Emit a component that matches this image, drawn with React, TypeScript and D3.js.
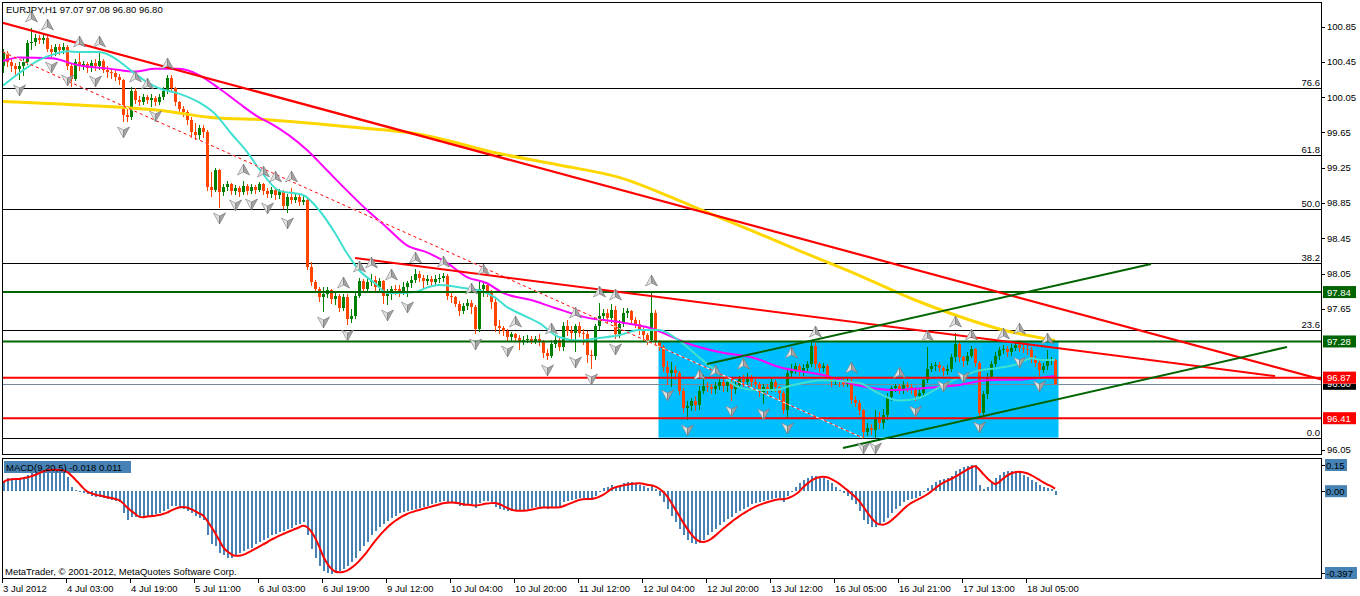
import React from 'react';
import * as d3 from 'd3';

// ---------------- DATA ----------------
const symbolTitle = 'EURJPY,H1  97.07 97.08 96.80 96.80';
const macdTitle = 'MACD(9,20,5) -0.018 0.011';
const copyright = 'MetaTrader, \u00A9 2001-2012, MetaQuotes Software Corp.';

const firstOpen = 100.4;
const closes = [
  100.55,100.45,100.40,100.37,100.40,100.45,100.66,100.68,100.72,100.70,
  100.72,100.60,100.56,100.62,100.58,100.62,100.40,100.26,100.45,100.40,
  100.42,100.38,100.44,100.40,100.46,100.36,100.33,100.32,100.28,100.24,
  99.85,99.82,100.12,100.02,100.00,100.05,100.02,100.04,100.00,100.05,
  100.12,100.27,100.15,99.99,99.92,99.88,99.79,99.66,99.62,99.70,
  99.66,99.03,99.00,99.22,98.97,99.03,99.06,98.98,99.02,98.97,
  99.04,98.98,99.03,99.00,99.06,98.98,98.95,99.00,98.94,98.98,
  98.82,98.92,98.88,98.92,98.86,98.88,98.12,97.95,97.88,97.78,
  97.82,97.86,97.76,97.80,97.66,97.78,97.54,97.57,97.80,97.97,
  97.88,97.95,97.98,97.90,97.96,97.79,97.84,97.88,97.87,97.84,
  97.90,97.94,97.98,98.04,98.00,97.96,97.99,97.95,97.99,98.00,
  98.02,97.79,97.78,97.71,97.62,97.68,97.72,97.67,97.42,97.88,
  97.92,97.84,97.73,97.45,97.43,97.40,97.33,97.36,97.32,97.28,
  97.30,97.31,97.29,97.31,97.28,97.15,97.12,97.25,97.30,97.22,
  97.45,97.40,97.38,97.45,97.38,97.36,97.13,97.12,97.45,97.57,
  97.60,97.55,97.64,97.36,97.48,97.60,97.62,97.52,97.48,97.40,
  97.35,97.30,97.60,97.27,97.22,96.99,96.92,96.96,96.92,96.72,
  96.53,96.55,96.60,96.56,96.72,96.78,96.76,96.74,96.78,96.82,
  96.77,96.82,96.74,96.79,96.85,96.82,96.87,96.82,96.80,96.71,
  96.76,96.74,96.82,96.76,96.70,96.50,96.92,96.96,97.00,96.95,
  96.98,97.02,97.23,97.02,96.98,97.00,96.87,96.82,96.84,96.82,
  96.80,96.83,96.62,96.58,96.50,96.25,96.30,96.28,96.42,96.36,
  96.45,96.65,96.75,96.77,96.74,96.79,96.76,96.74,96.66,96.70,
  96.84,96.97,97.00,97.01,96.98,96.94,96.97,97.10,97.25,97.10,
  97.06,97.12,97.19,97.04,96.47,96.68,96.88,97.02,97.12,97.18,
  97.20,97.16,97.21,97.24,97.21,97.20,97.18,97.08,97.04,96.96,
  97.00,97.06,97.07,96.80,
];
const highs = [
  100.60,100.57,100.48,100.44,100.45,100.50,100.70,100.83,100.76,100.75,
  100.75,100.74,100.64,100.65,100.65,100.66,100.64,100.43,100.48,100.55,
  100.46,100.45,100.47,100.48,100.55,100.48,100.40,100.37,100.36,100.31,
  100.26,99.95,100.16,100.15,100.06,100.08,100.07,100.08,100.06,100.08,
  100.16,100.30,100.30,100.17,100.01,99.95,99.90,99.82,99.76,99.73,
  99.73,99.68,99.20,99.25,99.23,99.06,99.10,99.08,99.05,99.04,
  99.10,99.06,99.06,99.05,99.09,99.08,99.02,99.03,99.02,99.01,
  99.00,98.95,99.02,98.95,98.94,98.93,98.90,98.18,97.98,97.90,
  97.90,97.90,97.88,97.84,97.82,97.82,97.82,97.65,97.83,98.00,
  97.99,97.99,98.05,98.02,98.00,97.98,97.87,97.91,97.92,97.92,
  97.95,97.97,98.02,98.10,98.08,98.03,98.03,98.02,98.03,98.04,
  98.06,98.04,97.84,97.80,97.74,97.72,97.76,97.75,97.69,97.96,
  97.96,97.94,97.86,97.76,97.52,97.46,97.42,97.39,97.38,97.35,
  97.34,97.35,97.34,97.34,97.36,97.30,97.20,97.30,97.34,97.33,
  97.50,97.52,97.45,97.48,97.50,97.42,97.40,97.18,97.48,97.72,
  97.65,97.65,97.70,97.68,97.52,97.66,97.66,97.64,97.56,97.52,
  97.44,97.38,97.84,97.64,97.30,97.24,97.06,97.05,97.00,96.95,
  96.75,96.60,96.64,96.66,96.78,96.90,96.82,96.80,96.82,96.86,
  96.85,96.86,96.86,96.84,96.89,96.90,96.92,96.90,96.85,96.82,
  96.80,96.80,96.86,96.84,96.78,96.72,96.96,97.02,97.04,97.03,
  97.02,97.06,97.28,97.26,97.05,97.04,97.02,96.88,96.87,96.87,
  96.85,96.87,96.86,96.66,96.62,96.52,96.36,96.34,96.50,96.48,
  96.52,96.70,96.78,96.80,96.80,96.83,96.82,96.80,96.76,96.75,
  96.88,97.22,97.04,97.05,97.05,97.00,97.01,97.14,97.38,97.28,
  97.12,97.16,97.23,97.21,97.06,96.72,96.92,97.06,97.16,97.22,
  97.24,97.23,97.25,97.29,97.30,97.25,97.24,97.22,97.12,97.08,
  97.04,97.18,97.10,97.08,
];
const lows = [
  100.33,100.40,100.35,100.30,100.25,100.30,100.42,100.60,100.64,100.66,
  100.66,100.57,100.52,100.53,100.54,100.55,100.37,100.18,100.24,100.36,
  100.37,100.34,100.35,100.36,100.37,100.33,100.28,100.27,100.24,100.20,
  99.78,99.78,99.80,99.98,99.96,99.97,99.98,99.95,99.96,99.97,
  100.03,100.10,100.12,99.96,99.88,99.84,99.75,99.60,99.58,99.58,
  99.60,99.00,98.93,98.98,98.80,98.94,99.00,98.95,98.95,98.93,
  98.95,98.95,98.96,98.96,98.98,98.95,98.92,98.92,98.90,98.91,
  98.79,98.75,98.85,98.86,98.83,98.84,98.10,97.92,97.85,97.74,
  97.62,97.78,97.72,97.70,97.62,97.64,97.48,97.50,97.55,97.78,
  97.84,97.85,97.92,97.86,97.86,97.72,97.70,97.76,97.82,97.80,
  97.82,97.80,97.90,97.95,97.96,97.90,97.93,97.92,97.92,97.95,
  97.97,97.76,97.73,97.68,97.58,97.60,97.65,97.60,97.38,97.40,
  97.80,97.80,97.66,97.40,97.38,97.35,97.30,97.30,97.29,97.20,
  97.25,97.27,97.26,97.26,97.24,97.10,97.08,97.10,97.22,97.18,
  97.18,97.35,97.30,97.17,97.34,97.25,97.05,96.98,97.08,97.42,
  97.52,97.50,97.50,97.32,97.33,97.45,97.56,97.48,97.44,97.36,
  97.30,97.25,97.27,97.24,97.18,96.95,96.80,96.78,96.86,96.68,
  96.48,96.40,96.50,96.50,96.52,96.70,96.72,96.70,96.70,96.74,
  96.72,96.72,96.62,96.70,96.76,96.78,96.80,96.78,96.76,96.66,
  96.58,96.70,96.72,96.72,96.62,96.47,96.42,96.88,96.92,96.90,
  96.90,96.95,97.00,96.98,96.94,96.94,96.84,96.78,96.80,96.78,
  96.77,96.78,96.58,96.55,96.46,96.20,96.22,96.23,96.20,96.30,
  96.30,96.40,96.62,96.72,96.70,96.70,96.72,96.70,96.62,96.64,
  96.66,96.82,96.94,96.96,96.94,96.90,96.91,96.94,97.06,97.06,
  97.00,97.02,97.10,97.00,96.43,96.44,96.64,96.85,97.00,97.08,
  97.15,97.12,97.13,97.18,97.17,97.16,97.14,97.05,97.00,96.90,
  96.93,96.97,97.02,96.80,
];

const upFractals = [7,11,19,24,33,36,41,60,65,68,72,85,89,92,97,103,110,117,120,128,137,143,149,153,162,174,178,185,197,203,212,224,231,238,242,250,254,261];
const downFractals = [4,12,16,23,30,38,54,58,62,66,71,80,86,96,101,118,126,136,143,147,153,166,171,182,190,196,215,218,228,235,240,244,254,259];

// moving averages, sampled [bar, price]
const cyanMA = [[0,100.18],[4,100.32],[9,100.47],[13,100.54],[16,100.57],[19,100.56],[24,100.56],[28,100.49],[32,100.35],[36,100.22],[39,100.15],[44,100.09],[49,99.99],[53,99.86],[57,99.64],[61,99.43],[64,99.24],[69,98.99],[75,98.94],[79,98.77],[83,98.51],[86,98.28],[89,98.09],[93,97.94],[96,97.83],[99,97.83],[103,97.84],[106,97.89],[109,97.92],[116,97.88],[119,97.86],[123,97.78],[126,97.67],[129,97.60],[134,97.49],[139,97.33],[144,97.29],[149,97.32],[154,97.35],[159,97.41],[164,97.41],[169,97.29],[174,97.10],[179,96.92],[184,96.76],[188,96.73],[193,96.73],[197,96.78],[205,96.84],[214,96.81],[219,96.69],[224,96.61],[229,96.64],[234,96.76],[239,96.87],[244,96.95],[249,96.98],[254,97.03],[257,97.09],[260,97.07],[263,97.07]];
const magentaMA = [[0,100.46],[4,100.50],[12,100.49],[19,100.41],[27,100.37],[33,100.34],[38,100.37],[44,100.37],[49,100.30],[54,100.15],[59,99.98],[64,99.82],[67,99.75],[76,99.45],[81,99.22],[86,98.99],[91,98.77],[96,98.57],[101,98.37],[106,98.29],[111,98.17],[116,98.01],[121,97.94],[125,97.83],[132,97.75],[138,97.66],[146,97.55],[154,97.50],[162,97.43],[171,97.26],[179,97.16],[188,97.09],[194,96.99],[205,96.90],[214,96.78],[222,96.73],[230,96.75],[238,96.78],[246,96.84],[255,96.85],[263,96.89]];
const goldMA = [[0,100.00],[19,99.96],[39,99.90],[52,99.82],[67,99.79],[87,99.71],[104,99.63],[124,99.41],[139,99.28],[154,99.14],[172,98.82],[187,98.54],[199,98.31],[214,98.03],[228,97.75],[238,97.58],[250,97.41],[263,97.29]];

// drawn objects: [bar, price] anchors
const redTrendLong = [[-1, 100.904], [330, 96.844]];
const redTrendShort = [[88, 98.226], [318, 96.888]];
const redTrendDotted = [[0, 100.561], [215, 96.186]];
const greenChannelUpper = [[176, 97.024], [287, 98.158]];
const greenChannelLower = [[210, 96.072], [321, 97.217]];
const zoneBox = { fromBar: 164, toBar: 264, top: 97.28, bottom: 96.19 };

const greenLevels = [97.84, 97.28];
const redLevels = [96.87, 96.41];
const bidPrice = 96.80;

const fibLow = 96.19;
const fibHigh = 101.37;
const fibLevels = [0, 23.6, 38.2, 50.0, 61.8, 76.6];

const priceTicks = [100.85, 100.45, 100.05, 99.65, 99.25, 98.85, 98.45, 98.05, 97.65, 96.45, 96.05];

const timeLabels = ['3 Jul 2012','4 Jul 03:00','4 Jul 19:00','5 Jul 11:00','6 Jul 03:00','6 Jul 19:00','9 Jul 12:00','10 Jul 04:00','10 Jul 20:00','11 Jul 12:00','12 Jul 04:00','12 Jul 20:00','13 Jul 12:00','16 Jul 05:00','16 Jul 21:00','17 Jul 13:00','18 Jul 05:00'];
const timeLabelStep = 16;

const macdMain = [
  0.04,0.06,0.06,0.06,0.055,0.06,0.075,0.085,0.09,0.095,
  0.1,0.1,0.095,0.095,0.09,0.09,0.065,0.02,0.005,-0.005,
  -0.01,-0.015,-0.02,-0.025,-0.025,-0.03,-0.035,-0.04,-0.045,-0.05,
  -0.1,-0.13,-0.115,-0.115,-0.115,-0.115,-0.11,-0.11,-0.105,-0.1,
  -0.09,-0.08,-0.065,-0.065,-0.07,-0.08,-0.09,-0.1,-0.11,-0.12,
  -0.13,-0.2,-0.24,-0.25,-0.28,-0.29,-0.3,-0.3,-0.29,-0.28,
  -0.27,-0.26,-0.255,-0.24,-0.23,-0.22,-0.21,-0.2,-0.195,-0.185,
  -0.18,-0.17,-0.165,-0.155,-0.15,-0.14,-0.2,-0.26,-0.3,-0.34,
  -0.36,-0.37,-0.375,-0.37,-0.36,-0.35,-0.34,-0.32,-0.3,-0.27,
  -0.25,-0.23,-0.2,-0.18,-0.16,-0.15,-0.135,-0.12,-0.11,-0.1,
  -0.095,-0.09,-0.085,-0.08,-0.075,-0.07,-0.065,-0.06,-0.055,-0.05,
  -0.045,-0.05,-0.055,-0.06,-0.065,-0.065,-0.06,-0.06,-0.075,-0.055,
  -0.045,-0.045,-0.05,-0.07,-0.08,-0.085,-0.09,-0.09,-0.09,-0.09,
  -0.085,-0.08,-0.075,-0.07,-0.07,-0.075,-0.08,-0.075,-0.07,-0.065,
  -0.05,-0.045,-0.04,-0.035,-0.03,-0.03,-0.04,-0.04,-0.02,0.0,
  0.015,0.02,0.03,0.02,0.025,0.035,0.04,0.04,0.035,0.03,
  0.025,0.015,0.03,0.01,-0.02,-0.05,-0.08,-0.11,-0.14,-0.17,
  -0.2,-0.22,-0.235,-0.24,-0.235,-0.22,-0.2,-0.185,-0.17,-0.155,
  -0.14,-0.125,-0.115,-0.1,-0.09,-0.08,-0.07,-0.06,-0.055,-0.05,
  -0.045,-0.04,-0.035,-0.03,-0.03,-0.05,-0.02,0.0,0.02,0.035,
  0.05,0.06,0.07,0.07,0.065,0.06,0.05,0.035,0.02,0.005,
  -0.01,-0.02,-0.04,-0.06,-0.09,-0.13,-0.15,-0.16,-0.16,-0.15,
  -0.14,-0.12,-0.1,-0.08,-0.065,-0.05,-0.04,-0.035,-0.03,-0.02,
  -0.005,0.015,0.03,0.04,0.05,0.055,0.06,0.07,0.09,0.1,
  0.11,0.115,0.12,0.12,0.03,0.01,0.02,0.04,0.06,0.075,
  0.085,0.09,0.09,0.09,0.085,0.075,0.065,0.05,0.04,0.03,
  0.02,0.015,0.01,-0.018,
];
const macdSignalPeriod = 5;
const macdTicks = [
  { v: 0.15, label: '0.15' },
  { v: 0.0, label: '0.00' },
  { v: -0.397, label: '-0.397' },
];

// ---------------- LAYOUT ----------------
const W = 1360, H = 596;
const L = 2, R = 1322, T = 2, MAIN_B = 455, MACD_T = 458, MACD_B = 579;
const FONT = "'Liberation Sans', Arial, sans-serif";
const FS = 9.5;

const x = d3.scaleLinear().domain([0, 263]).range([3, 1055]);
const y = d3.scaleLinear().domain([95.993, 101.128]).range([MAIN_B, T]);
const ym = d3.scaleLinear().domain([-0.397, 0.15]).range([MACD_B, MACD_T]);

const COL_UP = '#008000';
const COL_DN = '#FF4500';
const COL_GREEN = '#006400';
const COL_RED = '#FF0000';

function arrowUp(cx: number, cy: number, key: string) {
  return (
    <g key={key}>
      <path d={`M${cx},${cy - 6}L${cx},${cy + 2}L${cx - 6},${cy + 5}Z`} fill="#e2e2e2" stroke="#8c8c8c" strokeWidth={0.7} />
      <path d={`M${cx},${cy - 6}L${cx + 6},${cy + 5}L${cx},${cy + 2}Z`} fill="#a4a4a4" stroke="#7a7a7a" strokeWidth={0.7} />
    </g>
  );
}
function arrowDown(cx: number, cy: number, key: string) {
  return (
    <g key={key}>
      <path d={`M${cx},${cy + 6}L${cx},${cy - 2}L${cx - 6},${cy - 5}Z`} fill="#e2e2e2" stroke="#8c8c8c" strokeWidth={0.7} />
      <path d={`M${cx},${cy + 6}L${cx + 6},${cy - 5}L${cx},${cy - 2}Z`} fill="#a4a4a4" stroke="#7a7a7a" strokeWidth={0.7} />
    </g>
  );
}

export default function App() {
  const bars = closes.map((c, i) => {
    const o = i === 0 ? firstOpen : closes[i - 1];
    return { i, o, c, h: Math.max(highs[i], o, c), l: Math.min(lows[i], o, c) };
  });

  const seg = d3.line<number[]>().x(d => x(d[0])).y(d => y(d[1]));
  const ma = d3.line<number[]>().x(d => x(d[0])).y(d => y(d[1])).curve(d3.curveMonotoneX);

  const signal = macdMain.map((_, i) => {
    const s = Math.max(0, i - macdSignalPeriod + 1);
    return d3.mean(macdMain.slice(s, i + 1)) as number;
  });
  const sigLine = d3.line<number>().x((_, i) => x(i)).y(d => ym(d)).curve(d3.curveMonotoneX);

  const fibPrice = (lv: number) => fibLow + (fibHigh - fibLow) * lv / 100;
  const fmt = (v: number) => v.toFixed(2);

  const yBid = y(bidPrice);
  const yRed1 = y(redLevels[0]);
  const yRed2 = y(redLevels[1]);

  return (
    <svg width={W} height={H} style={{ position: 'absolute', left: 0, top: 0, background: '#fff' }} fontFamily={FONT} fontSize={FS}>
      <defs>
        <clipPath id="mainClip"><rect x={L} y={T} width={R - L} height={MAIN_B - T} /></clipPath>
        <clipPath id="macdClip"><rect x={L} y={MACD_T} width={R - L} height={MACD_B - MACD_T} /></clipPath>
        <clipPath id="bidLabelClip"><rect x={R} y={yRed1 + 6} width={40} height={10} /></clipPath>
        <clipPath id="t9645Clip"><rect x={R} y={yRed2 - 14} width={40} height={8} /></clipPath>
      </defs>
      <rect x={0} y={0} width={W} height={H} fill="#fff" />

      {/* MAIN PANEL */}
      <g clipPath="url(#mainClip)">
        <rect x={x(zoneBox.fromBar) - 0.5} y={y(zoneBox.top)} width={x(zoneBox.toBar) - x(zoneBox.fromBar)} height={y(zoneBox.bottom) - y(zoneBox.top)} fill="#00BFFF" />

        {fibLevels.map(lv => (
          <line key={'fib' + lv} x1={L} x2={R} y1={Math.round(y(fibPrice(lv))) + 0.5} y2={Math.round(y(fibPrice(lv))) + 0.5} stroke="#000" strokeWidth={1} shapeRendering="crispEdges" />
        ))}

        <line x1={L} x2={R} y1={Math.round(yBid) + 0.5} y2={Math.round(yBid) + 0.5} stroke="#778899" strokeWidth={1} shapeRendering="crispEdges" />

        {/* candles */}
        {bars.map(b => {
          const cx = Math.round(x(b.i));
          const up = b.c >= b.o;
          const col = up ? COL_UP : COL_DN;
          const yt = Math.round(y(Math.max(b.o, b.c)));
          const yb = Math.round(y(Math.min(b.o, b.c)));
          return (
            <g key={'c' + b.i} shapeRendering="crispEdges">
              <line x1={cx + 0.5} x2={cx + 0.5} y1={Math.round(y(b.h))} y2={Math.round(y(b.l)) + 1} stroke={col} strokeWidth={1} />
              <rect x={cx - 1} y={yt} width={3} height={Math.max(1, yb - yt)} fill={col} />
            </g>
          );
        })}

        {/* moving averages */}
        <path d={ma(goldMA) || ''} fill="none" stroke="#FFD700" strokeWidth={3} />
        <path d={ma(magentaMA) || ''} fill="none" stroke="#FF00FF" strokeWidth={2} />
        <path d={ma(cyanMA) || ''} fill="none" stroke="#40E0D0" strokeWidth={2} />

        {/* horizontal levels */}
        {greenLevels.map(v => (
          <line key={'g' + v} x1={L} x2={R} y1={y(v)} y2={y(v)} stroke={COL_GREEN} strokeWidth={2} />
        ))}
        {redLevels.map(v => (
          <line key={'r' + v} x1={L} x2={R} y1={y(v)} y2={y(v)} stroke={COL_RED} strokeWidth={2} />
        ))}

        {/* trend lines */}
        <path d={seg(redTrendDotted) || ''} stroke="#fff" strokeWidth={1} fill="none" />
        <path d={seg(redTrendDotted) || ''} stroke={COL_RED} strokeWidth={1} strokeDasharray="3,3" fill="none" />
        <path d={seg(redTrendLong) || ''} stroke={COL_RED} strokeWidth={2.2} fill="none" />
        <path d={seg(redTrendShort) || ''} stroke={COL_RED} strokeWidth={2} fill="none" />
        <path d={seg(greenChannelUpper) || ''} stroke={COL_GREEN} strokeWidth={2} fill="none" />
        <path d={seg(greenChannelLower) || ''} stroke={COL_GREEN} strokeWidth={2} fill="none" />

        {/* fractals */}
        {upFractals.map(i => arrowUp(Math.round(x(i)) + 0.5, Math.round(y(bars[i].h)) - 11, 'u' + i))}
        {downFractals.map(i => arrowDown(Math.round(x(i)) + 0.5, Math.round(y(bars[i].l)) + 11, 'd' + i))}
      </g>

      {/* fib labels */}
      {fibLevels.map(lv => (
        <text key={'fl' + lv} x={R - 2} y={Math.round(y(fibPrice(lv))) - 2} textAnchor="end" fill="#000">{lv.toFixed(1)}</text>
      ))}

      <text x={6} y={13} fill="#000">{symbolTitle}</text>

      {/* frames */}
      <rect x={L + 0.5} y={T + 0.5} width={R - L - 1} height={MAIN_B - T - 1} fill="none" stroke="#000" strokeWidth={1} shapeRendering="crispEdges" />

      {/* price axis */}
      {priceTicks.map(v => (
        <g key={'pt' + v} clipPath={v === 96.45 ? 'url(#t9645Clip)' : undefined}>
          <line x1={R} x2={R + 3} y1={Math.round(y(v)) + 0.5} y2={Math.round(y(v)) + 0.5} stroke="#000" shapeRendering="crispEdges" />
          <text x={R + 5} y={y(v) + 3.5} fill="#000">{fmt(v)}</text>
        </g>
      ))}
      <g clipPath="url(#bidLabelClip)">
        <rect x={R + 1} y={yBid - 6} width={33} height={12} fill="#000" />
        <text x={R + 5} y={yBid + 3.5} fill="#fff">{fmt(bidPrice)}</text>
      </g>
      {greenLevels.map(v => (
        <g key={'gl' + v}>
          <rect x={R + 1} y={y(v) - 6} width={33} height={12} fill={COL_GREEN} />
          <text x={R + 5} y={y(v) + 3.5} fill="#fff">{fmt(v)}</text>
        </g>
      ))}
      {redLevels.map(v => (
        <g key={'rl' + v}>
          <rect x={R + 1} y={y(v) - 6} width={33} height={12} fill={COL_RED} />
          <text x={R + 5} y={y(v) + 3.5} fill="#fff">{fmt(v)}</text>
        </g>
      ))}

      {/* MACD PANEL */}
      <g clipPath="url(#macdClip)">
        <rect x={4} y={461} width={127} height={12} fill="#4682B4" />
        {macdMain.map((v, i) => {
          const cx = Math.round(x(i));
          const y0 = Math.round(ym(0));
          const y1 = Math.round(ym(v));
          return <rect key={'m' + i} x={cx} y={Math.min(y0, y1)} width={2} height={Math.max(1, Math.abs(y1 - y0))} fill="#4682B4" shapeRendering="crispEdges" />;
        })}
        <path d={sigLine(signal) || ''} fill="none" stroke={COL_RED} strokeWidth={2} />
      </g>
      <text x={6} y={471} fill="#000">{macdTitle}</text>
      <text x={5} y={575} fill="#000">{copyright}</text>
      <rect x={L + 0.5} y={MACD_T + 0.5} width={R - L - 1} height={MACD_B - MACD_T - 1} fill="none" stroke="#000" strokeWidth={1} shapeRendering="crispEdges" />

      {macdTicks.map((t, k) => {
        const yy = ym(t.v);
        const cy = k === 0 ? yy + 7 : k === macdTicks.length - 1 ? yy - 6 : yy;
        const w = t.label.length * 5 + 2;
        return (
          <g key={'mt' + k}>
            <line x1={R} x2={R + 3} y1={Math.round(cy) + 0.5} y2={Math.round(cy) + 0.5} stroke="#000" shapeRendering="crispEdges" />
            <rect x={R + 3} y={cy - 6} width={w} height={12} fill="#4682B4" />
            <text x={R + 4} y={cy + 3.5} fill="#000">{t.label}</text>
          </g>
        );
      })}

      {/* time axis */}
      {timeLabels.map((lab, k) => {
        const xx = Math.round(x(k * timeLabelStep));
        return (
          <g key={'tl' + k}>
            <line x1={xx - 0.5} x2={xx - 0.5} y1={MACD_B} y2={MACD_B + 4} stroke="#000" shapeRendering="crispEdges" />
            <text x={xx} y={592} fill="#000">{lab}</text>
          </g>
        );
      })}
    </svg>
  );
}
